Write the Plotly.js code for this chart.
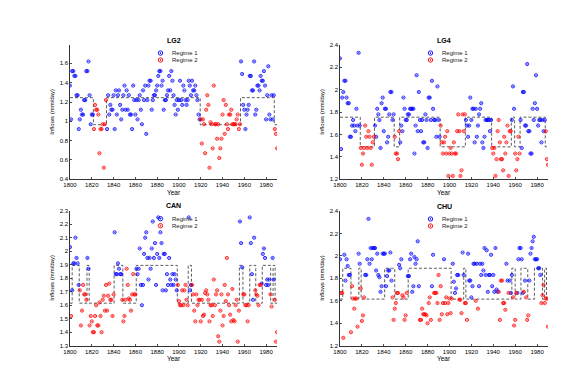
<!DOCTYPE html>
<html><head><meta charset="utf-8">
<script src="https://cdn.plot.ly/plotly-3.0.1.min.js"></script>
<style>html,body{margin:0;padding:0;background:#fff}#chart{width:587px;height:365px}</style>
</head><body><div id="chart"></div>
<script>
// ---------------- DATA ----------------
const years = [
1800,1801,1802,1803,1804,1805,1806,1807,1808,1809,
1810,1811,1812,1813,1814,1815,1816,1817,1818,1819,
1820,1821,1822,1823,1824,1825,1826,1827,1828,1829,
1830,1831,1832,1833,1834,1835,1836,1837,1838,1839,
1840,1841,1842,1843,1844,1845,1846,1847,1848,1849,
1850,1851,1852,1853,1854,1855,1856,1857,1858,1859,
1860,1861,1862,1863,1864,1865,1866,1867,1868,1869,
1870,1871,1872,1873,1874,1875,1876,1877,1878,1879,
1880,1881,1882,1883,1884,1885,1886,1887,1888,1889,
1890,1891,1892,1893,1894,1895,1896,1897,1898,1899,
1900,1901,1902,1903,1904,1905,1906,1907,1908,1909,
1910,1911,1912,1913,1914,1915,1916,1917,1918,1919,
1920,1921,1922,1923,1924,1925,1926,1927,1928,1929,
1930,1931,1932,1933,1934,1935,1936,1937,1938,1939,
1940,1941,1942,1943,1944,1945,1946,1947,1948,1949,
1950,1951,1952,1953,1954,1955,1956,1957,1958,1959,
1960,1961,1962,1963,1964,1965,1966,1967,1968,1969,
1970,1971,1972,1973,1974,1975,1976,1977,1978,1979,
1980,1981,1982,1983,1984,1985,1986,1987,1988,1989,
1990];
const xTickYears = [1800,1820,1840,1860,1880,1900,1920,1940,1960,1980];
const regimeNames = ["Regime 1","Regime 2"];
const siteNames = ["LG2","LG4","CAN","CHU"];

// Inflows (mm/day)
const lg2Values = [
1.37,1.02,1.52,1.52,1.47,1.47,1.27,1.27,0.92,1.02,
1.12,1.07,1.07,1.22,1.22,1.52,1.52,1.62,1.27,0.97,
1.07,1.07,0.92,1.17,1.12,1.12,1.07,0.67,0.92,0.92,
0.97,0.52,0.97,1.22,0.92,1.27,1.07,1.17,1.12,1.12,
1.27,0.92,1.32,1.07,1.27,1.32,1.17,1.02,1.12,1.27,
1.37,1.12,1.32,1.12,1.27,1.07,1.07,0.92,1.37,1.22,
1.07,1.22,1.02,1.22,1.27,1.12,0.97,1.32,1.22,1.37,
0.87,1.22,1.37,1.42,1.42,1.12,1.22,1.27,1.27,1.32,
1.37,1.47,1.52,1.52,1.37,1.42,1.12,1.22,1.22,1.27,
1.32,1.47,1.32,1.52,1.42,1.27,1.17,1.07,1.22,1.12,
1.22,1.42,1.22,1.17,1.37,1.32,1.22,1.17,1.22,1.42,
1.37,1.27,1.42,1.32,1.32,1.37,1.27,1.22,1.07,1.02,
1.02,0.77,1.02,0.97,0.67,1.12,1.27,1.17,0.52,0.99,
0.97,0.72,1.37,0.97,0.97,0.82,0.97,0.62,0.72,0.82,
1.07,1.22,0.87,1.17,0.97,0.92,1.07,1.07,1.12,0.97,
0.97,0.97,0.97,1.02,1.07,0.92,0.97,1.62,1.49,1.17,
1.12,0.92,1.07,1.12,1.17,1.47,1.47,1.32,1.32,1.62,
1.07,1.12,1.37,1.37,1.32,1.47,1.42,1.42,1.52,1.37,
1.02,1.27,1.57,1.07,1.02,1.27,1.02,1.27,0.92,0.87,
0.72];
const lg2Regime = ["1111111111","1111111111","1122222222","2222111111","1111111111",
"1111111111","1111111111","1111111111","1111111111","1111111111","1111111111",
"1111111111","2222222222","2222222222","2222222222","2222222111","1111111111",
"1111111111","1111111122","2"];
const lg2StepYears = [1800,1821.5,1833.5,1919.5,1956.5,1987.5,1990];
const lg2StepRegime = [1,2,1,2,1,2];
const lg2Levels = [1.245,0.965];

const lg4Values = [
2.28,1.47,1.93,1.98,2.08,2.08,1.93,1.88,1.88,1.58,
1.58,1.68,1.73,1.68,1.63,1.83,1.68,2.33,1.68,1.48,
1.33,1.43,1.48,1.68,1.58,1.48,1.63,1.58,1.48,1.33,
1.53,1.58,1.68,1.58,1.83,1.78,1.73,1.48,1.88,1.93,
1.63,1.83,1.83,1.53,1.58,1.78,1.98,1.98,1.73,1.78,
1.58,1.43,1.43,1.38,1.63,1.53,1.68,1.63,1.93,1.83,
1.73,1.73,1.78,1.78,1.83,1.83,1.83,1.83,1.43,1.68,
2.13,1.63,1.98,1.73,1.63,1.73,1.53,1.53,1.78,1.73,
1.48,1.93,1.93,1.73,2.08,1.83,1.73,1.73,1.58,2.03,
1.73,1.58,1.68,1.53,1.43,1.53,1.58,1.43,1.63,1.23,
1.43,1.48,1.43,1.23,1.53,1.43,1.43,1.63,1.78,1.63,
1.23,1.28,1.78,1.63,1.78,1.73,1.68,1.58,1.68,1.93,
1.73,1.83,1.83,1.53,1.83,1.58,1.68,1.78,1.83,1.88,
1.53,1.48,1.58,1.73,1.73,1.73,1.73,1.63,1.73,1.48,
1.43,1.48,1.23,1.38,1.63,1.73,1.53,1.38,1.38,1.28,
1.58,1.43,1.53,1.68,1.23,1.63,1.63,1.73,2.03,1.83,
1.43,1.28,1.38,1.58,1.43,1.73,1.48,1.98,1.98,1.68,
1.68,2.23,1.63,1.63,1.43,1.43,1.83,1.73,1.88,2.13,
1.83,1.68,1.73,1.73,1.53,1.73,1.63,1.73,1.63,1.38,
1.33];
const lg4Regime = ["1111111111","1111111112","2222222222","2211111111","1111111111",
"2222211111","1111111111","1111111111","1111111111","1122222222","2222222222",
"2222211111","1111111111","1111111112","2222222222","2222222111","2222211111",
"1111111111","1111111122","2"];
const lg4StepYears = [1800,1818.5,1831.5,1849.5,1854.5,1891.5,1914.5,1938.5,1956.5,1959.5,1964.5,1987.5,1990];
const lg4StepRegime = [1,2,1,2,1,2,1,2,1,2,1,2];
const lg4Levels = [1.755,1.49];

const canValues = [
2.03,1.52,1.71,1.91,1.91,2.10,1.95,1.91,1.75,1.71,
1.45,1.56,1.75,1.68,1.68,1.64,1.95,1.87,1.45,1.52,
1.48,1.40,1.40,1.52,1.60,1.45,1.45,1.62,1.52,1.40,
1.64,1.67,1.56,1.75,1.56,1.67,1.76,1.64,1.64,1.52,
1.68,2.14,1.83,1.83,1.91,1.87,1.83,1.83,1.64,1.48,
1.52,1.64,1.87,1.75,1.65,1.64,1.56,1.68,1.83,1.68,
1.68,1.87,1.83,1.87,2.02,1.75,1.60,1.75,1.98,2.10,
2.14,1.95,1.79,1.95,1.87,2.02,2.22,1.95,2.06,1.75,
1.98,2.25,1.95,2.14,2.06,1.71,1.98,1.98,1.71,1.83,
1.75,1.95,1.79,1.75,1.83,1.75,1.83,1.79,1.71,1.75,
1.63,1.60,1.60,1.71,1.60,1.71,1.75,1.64,1.60,2.25,
1.71,1.75,1.75,1.68,1.56,1.48,1.68,1.60,1.64,1.64,
1.48,1.64,1.52,1.53,1.69,1.71,1.68,1.64,1.48,1.60,
1.60,1.52,1.79,1.60,1.68,1.71,1.37,1.33,1.56,1.68,
1.45,1.52,1.75,1.63,1.95,1.68,1.60,1.53,1.48,1.72,
1.49,1.48,1.60,1.64,1.33,1.56,2.22,2.06,1.88,1.68,
1.68,1.60,1.60,1.48,1.60,2.25,2.06,1.83,1.64,2.10,
1.71,1.68,1.67,1.60,1.75,1.75,1.76,1.98,2.02,1.95,
1.75,1.79,1.75,1.79,1.68,1.59,1.95,1.79,1.64,1.33,
1.40];
const canRegime = ["1211111112","2222221122","2222222222","2222222222","2111111122",
"2222222222","2111111111","1111111111","1111111111","1111111112","2222222221",
"1122222222","2222222222","2222222222","2222222222","2222221112","2222211111",
"2222221111","1111221122","2"];
const canStepYears = [1800,1802,1808.5,1815.6,1817.6,1840.5,1848.5,1860.8,1898.5,1908.5,1911.5,1955.5,1958.7,1965,1970.5,1976.5,1984.2,1986.4,1988.3,1990];
const canStepRegime = [2,1,2,1,2,1,2,1,2,1,2,1,2,1,2,1,2,1,2];
const canLevels = [1.895,1.615];

const chuValues = [
1.97,1.67,1.67,1.27,2.01,1.78,1.97,1.91,1.83,1.83,
1.32,1.73,1.62,1.53,1.62,1.62,1.37,2.02,1.93,1.71,
1.42,1.47,1.63,1.83,1.83,1.97,2.33,1.93,2.07,1.97,
2.07,2.07,2.07,1.87,2.02,1.83,1.81,1.68,1.73,2.02,
2.02,2.02,1.73,1.82,1.87,1.87,2.03,1.78,1.63,1.43,
1.53,1.58,1.67,1.67,1.92,1.89,1.97,1.65,1.63,1.43,
1.47,1.67,1.82,1.82,1.97,2.02,1.68,1.73,1.99,1.93,
1.97,2.13,1.73,1.43,1.43,1.53,1.48,1.48,1.48,1.47,
1.40,1.58,1.63,1.43,1.73,2.01,1.67,1.67,1.67,1.58,
1.83,1.43,1.73,1.48,1.58,1.97,1.58,1.63,1.48,1.58,
1.62,1.49,1.62,1.93,1.77,1.67,1.71,1.83,1.83,1.61,
1.61,1.49,2.03,1.83,1.58,1.58,1.43,2.02,1.78,1.78,
1.63,1.73,1.93,1.93,1.60,1.93,1.53,1.73,1.93,1.83,
1.93,1.87,2.07,1.83,2.05,1.68,1.83,1.83,2.01,1.73,
1.83,1.68,2.07,1.70,1.68,1.68,1.43,1.78,1.78,1.58,
1.58,1.52,1.93,1.78,1.67,1.78,1.67,1.83,1.63,1.38,
1.43,1.67,1.67,1.97,2.07,2.07,1.97,1.67,1.68,1.78,
1.63,1.43,1.47,1.78,2.02,2.07,2.13,2.17,1.97,1.97,
1.97,1.89,1.89,1.83,1.58,1.65,1.74,1.58,1.62,1.62,
1.37];
const chuRegime = ["1222111111","2222222112","2221111111","1111111111","1111111122",
"2222111222","2211111111","1112222222","2222112222","2222212222","2221111112",
"2211222111","1111212111","1111111111","1111122222","2211211122","2211111121",
"2221111111","1111222222","2"];
const chuStepYears = [1800,1802.5,1810,1817.2,1819.3,1840.8,1850,1862.3,1901.5,1913,1915,1957,1960,1965.3,1971.5,1977.6,1985,1986.9,1988.6,1990];
const chuStepRegime = [2,1,2,1,2,1,2,1,2,1,2,1,2,1,2,1,2,1,2];
const chuLevels = [1.89,1.615];

// ---------------- LAYOUT ----------------
const W = 587, H = 365;
const FONT = "Liberation Sans, Arial, Helvetica, sans-serif";
const colors = ["#0000ff","#ff0000"];
const panels = [
  {vals: lg2Values, reg: lg2Regime, sx: lg2StepYears, sr: lg2StepRegime, lv: lg2Levels,
   yr: [0.4,1.79], dt: 0.2, l: 70, r: 277, t: 45, b: 179.3},
  {vals: lg4Values, reg: lg4Regime, sx: lg4StepYears, sr: lg4StepRegime, lv: lg4Levels,
   yr: [1.2,2.4], dt: 0.2, l: 340, r: 548, t: 45, b: 179.3},
  {vals: canValues, reg: canRegime, sx: canStepYears, sr: canStepRegime, lv: canLevels,
   yr: [1.3,2.3], dt: 0.1, l: 70, r: 277, t: 210.7, b: 345.7},
  {vals: chuValues, reg: chuRegime, sx: chuStepYears, sr: chuStepRegime, lv: chuLevels,
   yr: [1.2,2.4], dt: 0.2, l: 340, r: 548, t: 211, b: 345.7}
];
const px = v => v / W;
const py = v => 1 - v / H;

const traces = [];
const layout = {
  width: W, height: H,
  margin: {l: 0, r: 0, t: 0, b: 0},
  paper_bgcolor: "#fff", plot_bgcolor: "rgba(0,0,0,0)",
  showlegend: false,
  font: {family: FONT, size: 6, color: "#000"},
  annotations: [], shapes: []
};

panels.forEach((p, i) => {
  const k = i + 1;
  const xa = "x" + (k === 1 ? "" : k), ya = "y" + (k === 1 ? "" : k);
  const reg = p.reg.join("").split("").map(Number);
  // step line of regime levels
  const sy = p.sr.map(r => p.lv[r - 1]);
  sy.push(sy[sy.length - 1]);
  traces.push({type: "scatter", mode: "lines", x: p.sx, y: sy, xaxis: xa, yaxis: ya,
    line: {shape: "hv", color: "#4a4a4a", width: 0.9, dash: "3px,2px"}, hoverinfo: "skip"});
  [1, 2].forEach(rg => {
    const xs = [], ys = [];
    years.forEach((yv, j) => { if (reg[j] === rg) { xs.push(yv); ys.push(p.vals[j]); } });
    traces.push({type: "scatter", mode: "markers", name: regimeNames[rg - 1], x: xs, y: ys,
      xaxis: xa, yaxis: ya,
      marker: {symbol: "circle-open-dot", size: 3.2, color: colors[rg - 1], line: {width: 0.8, color: colors[rg - 1]}}});
  });
  const common = {showgrid: false, zeroline: false, showline: true, linecolor: "#000", linewidth: 0.8,
    ticks: "inside", ticklen: 2, tickwidth: 0.7, tickcolor: "#000", mirror: false,
    tickfont: {family: FONT, size: 6, color: "#000"}, fixedrange: true};
  layout["xaxis" + (k === 1 ? "" : k)] = Object.assign({}, common, {
    domain: [px(p.l), px(p.r)], anchor: ya, range: [1800, 1990],
    tickvals: xTickYears, ticktext: xTickYears.map(String)});
  layout["yaxis" + (k === 1 ? "" : k)] = Object.assign({}, common, {
    domain: [py(p.b), py(p.t)], anchor: xa, range: p.yr, dtick: p.dt, tick0: 0});
  const cx = px((p.l + p.r) / 2);
  layout.annotations.push(
    {xref: "paper", yref: "paper", x: cx, y: py(p.t - 5), text: "<b>" + siteNames[i] + "</b>",
     showarrow: false, xanchor: "center", yanchor: "middle", font: {family: FONT, size: 7, color: "#000"}},
    {xref: "paper", yref: "paper", x: px(p.l - 17.5), y: py((p.t + p.b) / 2), text: "Inflows (mm/day)",
     textangle: -90, showarrow: false, xanchor: "center", yanchor: "middle", font: {family: FONT, size: 6, color: "#000"}},
    {xref: "paper", yref: "paper", x: cx, y: py(p.b + 13), text: "Year",
     showarrow: false, xanchor: "center", yanchor: "middle", font: {family: FONT, size: 6.5, color: "#000"}}
  );
  // legend (drawn manually to keep the tight spacing of the original)
  [0, 1].forEach(j => {
    const ly = p.t + 8 + j * 7;
    const lx = p.l + 90.5;
    layout.shapes.push(
      {type: "circle", xref: "paper", yref: "paper", xsizemode: "pixel", ysizemode: "pixel",
       xanchor: px(lx), yanchor: py(ly), x0: -2.2, x1: 2.2, y0: -2.2, y1: 2.2,
       line: {color: colors[j], width: 0.9}, fillcolor: "rgba(0,0,0,0)"},
      {type: "circle", xref: "paper", yref: "paper", xsizemode: "pixel", ysizemode: "pixel",
       xanchor: px(lx), yanchor: py(ly), x0: -0.5, x1: 0.5, y0: -0.5, y1: 0.5,
       line: {color: colors[j], width: 0.6}, fillcolor: colors[j]}
    );
    layout.annotations.push({xref: "paper", yref: "paper", x: px(p.l + 100), y: py(ly),
      text: regimeNames[j], showarrow: false, xanchor: "left", yanchor: "middle",
      font: {family: FONT, size: 6, color: "#222"}});
  });
});

Plotly.newPlot("chart", traces, layout, {displayModeBar: false, staticPlot: true});
</script></body></html>
